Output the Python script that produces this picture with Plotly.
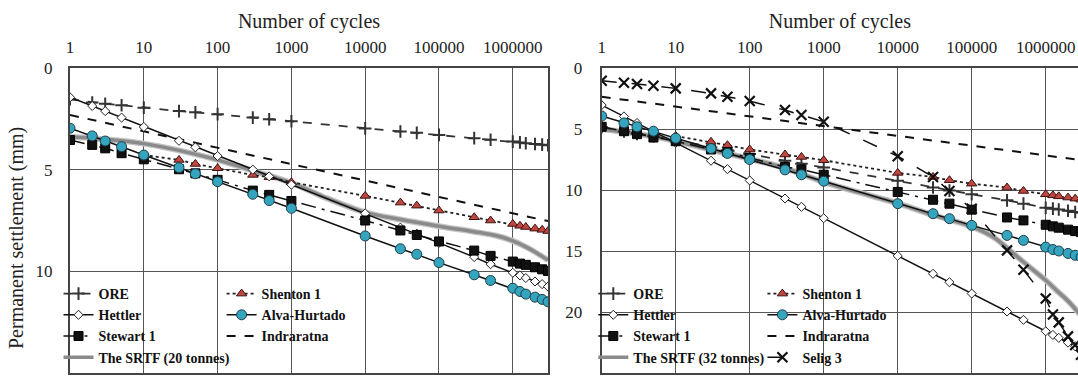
import plotly.graph_objects as go

SERIF = "Liberation Serif"

# ---------------- data ----------------
CYCLE_TICKS = [1, 10, 100, 1000, 10000, 100000, 1000000]
CYCLE_LABELS = ["1", "10", "100", "1000", "10000", "100000", "1000000"]
SETTLE_TICKS_L = [0, 5, 10, 15]
SETTLE_TICKS_R = [0, 5, 10, 15, 20, 25]

N_PTS = [1, 2, 3, 5, 10, 30, 50, 100, 300, 500, 1000, 1e4, 3e4, 5e4, 1e5,
         3e5, 5e5, 1e6, 1.25e6, 1.5e6, 2e6, 2.5e6, 3e6]
N_SHENTON = [10, 30, 50, 100, 300, 500, 1000, 1e4, 3e4, 5e4, 1e5,
             3e5, 5e5, 1e6, 1.25e6, 1.5e6, 2e6, 2.5e6, 3e6]
N_INDRA = [1, 10, 100, 1000, 1e4, 1e5, 1e6, 3e6]
N_SRTF20 = [1, 2, 5, 10, 30, 100, 300, 1000, 3000, 1e4, 3e4, 1e5, 3e5, 6e5,
            1e6, 1.5e6, 2e6, 3e6]
N_SRTF32 = [1, 2, 5, 10, 30, 100, 300, 1000, 3000, 1e4, 3e4, 1e5, 2e5, 3e5,
            5e5, 1e6, 1.5e6, 2e6, 3e6]

# left panel (20 tonnes)
ORE_L = [1.54, 1.70, 1.76, 1.83, 1.95, 2.12, 2.18, 2.27, 2.44, 2.52, 2.62, 2.97,
         3.12, 3.19, 3.29, 3.45, 3.53, 3.62, 3.66, 3.70, 3.74, 3.77, 3.80]
HETTLER_L = [1.44, 1.87, 2.12, 2.44, 2.90, 3.58, 3.90, 4.33, 5.00, 5.33, 5.74, 7.15,
             7.85, 8.15, 8.60, 9.30, 9.65, 10.07, 10.20, 10.33, 10.50, 10.63, 10.75]
STEWART_L = [3.54, 3.78, 3.95, 4.19, 4.49, 4.98, 5.18, 5.50, 6.03, 6.24, 6.54, 7.50,
             7.99, 8.21, 8.53, 8.98, 9.24, 9.52, 9.62, 9.68, 9.80, 9.90, 9.98]
ALVA_L = [2.96, 3.34, 3.59, 3.87, 4.28, 4.90, 5.20, 5.59, 6.21, 6.52, 6.90, 8.26,
          8.89, 9.16, 9.57, 10.17, 10.45, 10.83, 10.99, 11.12, 11.27, 11.38, 11.50]
SHENTON_L = [4.28, 4.52, 4.72, 4.93, 5.26, 5.37, 5.62, 6.29, 6.62, 6.77, 7.01,
             7.34, 7.50, 7.67, 7.76, 7.82, 7.90, 7.96, 8.02]
INDRA_L = [2.31, 3.12, 3.92, 4.73, 5.53, 6.34, 7.14, 7.53]
SRTF20 = [3.38, 3.45, 3.58, 3.72, 4.05, 4.52, 5.05, 5.65, 6.40, 7.10, 7.45, 7.78,
          8.05, 8.25, 8.50, 8.80, 9.05, 9.45]

# right panel (32 tonnes)
ORE_R = [4.85, 5.20, 5.40, 5.60, 5.95, 6.50, 6.75, 7.05, 7.60, 7.85, 8.15, 9.25,
         9.80, 10.05, 10.35, 10.85, 11.12, 11.45, 11.53, 11.60, 11.70, 11.80, 11.87]
HETTLER_R = [3.04, 3.97, 4.51, 5.20, 6.13, 7.60, 8.29, 9.22, 10.70, 11.38, 12.31, 15.40,
             16.87, 17.56, 18.49, 19.96, 20.64, 21.58, 21.88, 22.12, 22.51, 22.81, 23.05]
STEWART_R = [4.82, 5.18, 5.42, 5.70, 6.00, 6.68, 6.88, 7.37, 8.11, 8.32, 8.75, 10.16,
             10.80, 11.12, 11.61, 12.25, 12.49, 12.85, 12.98, 13.09, 13.25, 13.37, 13.45]
ALVA_R = [3.94, 4.50, 4.82, 5.18, 5.75, 6.60, 7.00, 7.50, 8.35, 8.75, 9.28, 11.12,
          11.94, 12.35, 12.90, 13.72, 14.13, 14.68, 14.88, 15.00, 15.20, 15.35, 15.50]
SHENTON_R = [5.58, 6.05, 6.33, 6.68, 7.09, 7.29, 7.56, 8.60, 8.93, 9.20, 9.48,
             9.80, 10.08, 10.35, 10.44, 10.52, 10.62, 10.71, 10.79]
INDRA_R = [2.36, 3.16, 3.96, 4.76, 5.56, 6.36, 7.16, 7.55]
SRTF32 = [5.00, 5.25, 5.60, 6.00, 6.70, 7.45, 8.20, 9.35, 10.20, 11.10, 12.05, 13.00,
          13.90, 14.75, 15.90, 17.40, 18.40, 19.10, 20.30]
SELIG_R = [1.04, 1.21, 1.31, 1.45, 1.67, 2.08, 2.36, 2.71, 3.45, 3.86, 4.41, 7.23,
           8.93, 10.08, 11.53, 14.95, 16.54, 18.90, 20.20, 20.85, 22.00, 22.70, 23.50]

# ---------------- geometry (pixels) ----------------
W, H = 1078, 379
ML, MT, MB = 70, 68, 6
PW = W - ML
PH = H - MT - MB


def px_x(p):
    return (p - ML) / PW


def px_y(p):
    return (H - MB - p) / PH


LEFT_DOM = [0, px_x(548)]
RIGHT_DOM = [px_x(601.7), 1]

RED = "#C0473F"
TEAL = "#35A4BE"
GRAY = "#8A8A8A"

fig = go.Figure()


def add(name, x, y, ax, legend, rank, line, marker=None, mode="lines+markers",
        show=True):
    fig.add_trace(go.Scatter(
        x=x, y=y, name=name, mode=mode, line=line, marker=marker,
        xaxis="x" if ax == 1 else "x2", yaxis="y" if ax == 1 else "y2",
        legend=legend, legendrank=rank, showlegend=show, hoverinfo="x+y+name"))


ORE_M = dict(symbol="cross-thin-open", size=9, line=dict(width=2, color="#111"))
HET_M = dict(symbol="diamond", size=7, color="white", line=dict(width=1, color="#222"))
STW_M = dict(symbol="square", size=9, color="#111", line=dict(width=1, color="#000"))
SHE_M = dict(symbol="triangle-up", size=9, color=RED, line=dict(width=1, color="#3a1010"))
ALV_M = dict(symbol="circle", size=10, color=TEAL, line=dict(width=1, color="#1d3f48"))
SEL_M = dict(symbol="x-thin-open", size=10, line=dict(width=2.2, color="#111"))

for ax, legA, legB in [(1, "legend", "legend2"), (2, "legend3", "legend4")]:
    if ax == 1:
        srtf_n, srtf_v, srtf_name = N_SRTF20, SRTF20, "The SRTF (20 tonnes)"
        ore, het, stw, alv, she, ind = ORE_L, HETTLER_L, STEWART_L, ALVA_L, SHENTON_L, INDRA_L
    else:
        srtf_n, srtf_v, srtf_name = N_SRTF32, SRTF32, "The SRTF (32 tonnes)"
        ore, het, stw, alv, she, ind = ORE_R, HETTLER_R, STEWART_R, ALVA_R, SHENTON_R, INDRA_R
    # SRTF halo + core
    add(srtf_name, srtf_n, srtf_v, ax, legA, 4,
        dict(color="#c4c4c4", width=6, shape="spline"), mode="lines", show=False)
    add(srtf_name, srtf_n, srtf_v, ax, legA, 4,
        dict(color=GRAY, width=3.5, shape="spline"), mode="lines")
    add("Indraratna", N_INDRA, ind, ax, legB, 3,
        dict(color="#111", width=2, dash="dash"), mode="lines")
    add("ORE", N_PTS, ore, ax, legA, 1,
        dict(color="#333", width=1.8, dash="dash"), ORE_M)
    add("Shenton 1", N_SHENTON, she, ax, legB, 1,
        dict(color="#222", width=1.8, dash="dot"), SHE_M)
    add("Hettler", N_PTS, het, ax, legA, 2,
        dict(color="#111", width=1.5), HET_M)
    add("Stewart 1", N_PTS, stw, ax, legA, 3,
        dict(color="#111", width=1.5, dash="longdashdot"), STW_M)
    add("Alva-Hurtado", N_PTS, alv, ax, legB, 2,
        dict(color="#111", width=1.5), ALV_M)
    if ax == 2:
        add("Selig 3", N_PTS, SELIG_R, ax, legB, 4,
            dict(color="#111", width=1.5, dash="longdash"), SEL_M)

GRID = "#555555"
BORDER = "#444444"
tickfont = dict(family=SERIF, size=17, color="#222")

xcommon = dict(type="log", side="top", tickvals=CYCLE_TICKS, ticktext=CYCLE_LABELS,
               showgrid=True, gridcolor=GRID, gridwidth=1.2, showline=True,
               linecolor=BORDER, linewidth=2, mirror=True, ticks="",
               tickfont=tickfont, ticklabelstandoff=6, zeroline=False, tickangle=0,
               automargin=False,
               title=dict(text="Number of cycles", font=dict(family=SERIF, size=20, color="#222"),
                          standoff=4))

fig.update_layout(
    width=W, height=H,
    margin=dict(l=ML, r=0, t=MT, b=MB, pad=0, autoexpand=False),
    paper_bgcolor="white", plot_bgcolor="white",
    font=dict(family=SERIF, color="#222"),
    xaxis=dict(domain=LEFT_DOM, range=[0, 6.4771], anchor="y", **xcommon),
    xaxis2=dict(domain=RIGHT_DOM, range=[0, 6.436], anchor="y2", **xcommon),
    yaxis=dict(domain=[0, 1], range=[15, 0], tickvals=SETTLE_TICKS_L, anchor="x",
               showgrid=True, gridcolor=GRID, gridwidth=1.2, showline=True,
               linecolor=BORDER, linewidth=2, mirror=True, ticks="",
               tickfont=tickfont, ticklabelstandoff=12, zeroline=False, automargin=False),
    yaxis2=dict(domain=[0, 1], range=[25, 0], tickvals=SETTLE_TICKS_R, anchor="x2",
                showgrid=True, gridcolor=GRID, gridwidth=1.2, showline=True,
                linecolor=BORDER, linewidth=2, mirror=False, ticks="",
                tickfont=tickfont, ticklabelstandoff=14, zeroline=False, automargin=False),
    showlegend=True,
)

# y-axis title as rotated text beside the left panel
fig.add_annotation(text="Permanent settlement (mm)", textangle=-90,
                   xref="paper", yref="paper", x=px_x(17), y=px_y(238),
                   xanchor="center", yanchor="middle", showarrow=False,
                   font=dict(family=SERIF, size=20, color="#222"))

leg_common = dict(bgcolor="rgba(0,0,0,0)", borderwidth=0, xref="container",
                  yref="container", xanchor="left", yanchor="top",
                  tracegroupgap=0, itemwidth=30, orientation="v",
                  font=dict(family=SERIF, size=14, color="#111", weight="bold"))
LEG_TOP = 1 - 278 / H
fig.update_layout(
    legend=dict(x=58.5 / W, y=LEG_TOP, **leg_common),
    legend2=dict(x=221.6 / W, y=LEG_TOP, **leg_common),
    legend3=dict(x=593.3 / W, y=LEG_TOP, **leg_common),
    legend4=dict(x=762.4 / W, y=LEG_TOP, **leg_common),
)

# white panels behind legends (hide gridlines under legend boxes)
fig.add_shape(type="rect", xref="paper", yref="paper", layer="between",
              x0=px_x(71), x1=px_x(400), y0=px_y(372), y1=px_y(283),
              fillcolor="white", line_width=0)
fig.add_shape(type="rect", xref="paper", yref="paper", layer="between",
              x0=px_x(602.7), x1=px_x(895), y0=px_y(371), y1=px_y(285),
              fillcolor="white", line_width=0)

fig.write_html("out.html", config={"displayModeBar": False},
               post_script="document.body.style.margin='0';")
